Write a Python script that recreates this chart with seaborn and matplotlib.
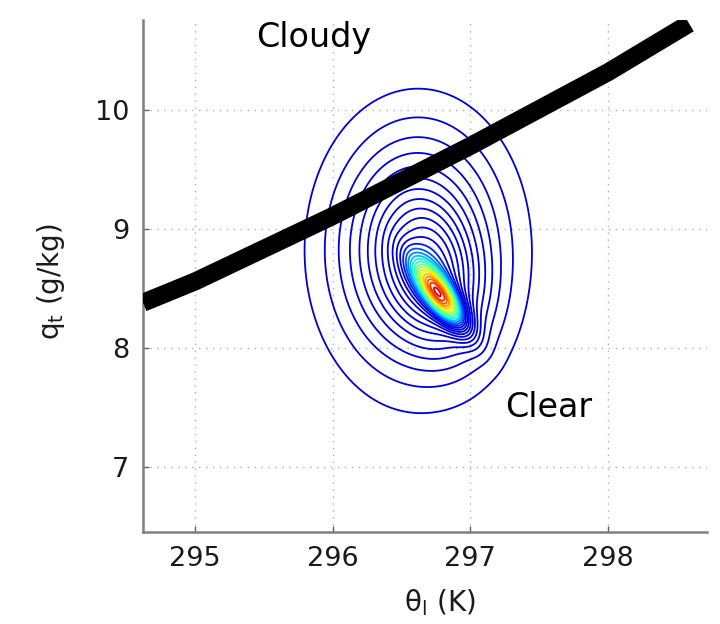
import numpy as np
import matplotlib
matplotlib.use("Agg")
import matplotlib.pyplot as plt
import seaborn as sns

# Saturation curve separating cloudy from clear air
theta_sat = [294.62, 295.0, 296.0, 297.0, 298.0, 298.59]
qt_sat = [8.38, 8.56, 9.11, 9.70, 10.32, 10.73]

# Joint PDF of theta_l and q_t as Gaussian components:
# broad, intermediate and a narrow, negatively correlated core
comp_theta_mean = [296.62, 296.74, 296.78]
comp_qt_mean = [8.82, 8.60, 8.44]
comp_theta_sd = [0.40, 0.22, 0.13]
comp_qt_sd = [0.66, 0.38, 0.19]
comp_rho = [0.0, -0.25, -0.78]
comp_peak = [0.70, 0.45, 1.30]

x_ticks = [295, 296, 297, 298]
y_ticks = [7, 8, 9, 10]

sns.set_style("ticks")
plt.rcParams["font.family"] = ["DejaVu Sans"]
plt.rcParams["mathtext.fontset"] = "dejavusans"

fig = plt.figure(figsize=(7.2, 6.24), dpi=100)
ax = fig.add_axes([143 / 720, 1 - 532 / 624, (707 - 143) / 720, (532 - 20) / 624])

xlim = (294.62, 298.72)
ylim = (6.45, 10.76)

tx = np.linspace(xlim[0], xlim[1], 600)
qy = np.linspace(ylim[0], ylim[1], 600)
TX, QY = np.meshgrid(tx, qy)
pdf = np.zeros_like(TX)
for mx, my, sx, sy, r, a in zip(comp_theta_mean, comp_qt_mean, comp_theta_sd,
                                comp_qt_sd, comp_rho, comp_peak):
    u = (TX - mx) / sx
    v = (QY - my) / sy
    pdf += a * np.exp(-(u * u - 2 * r * u * v + v * v) / (2 * (1 - r * r)))

step = 1.0 / 12
levels = np.arange(step, pdf.max(), step)
blue_top = 1.05
jet = plt.get_cmap("jet")
n_blue = int(np.sum(levels < blue_top))
colors = []
for k in range(len(levels)):
    if k < n_blue:
        colors.append(jet(0.08))
    else:
        t = (k - n_blue) / max(1, len(levels) - 1 - n_blue)
        colors.append(jet(0.15 + 0.77 * t))
ax.contour(TX, QY, pdf, levels=levels, colors=colors, linewidths=1.3)

sns.lineplot(x=theta_sat, y=qt_sat, ax=ax, color="black", linewidth=13,
             solid_capstyle="butt", zorder=5)

ax.set_xlim(*xlim)
ax.set_ylim(*ylim)
ax.set_xticks(x_ticks)
ax.set_yticks(y_ticks)
ax.grid(True, color="#b0b0b0", linestyle=(0, (1, 4)), linewidth=1.0)
for side in ["top", "right"]:
    ax.spines[side].set_visible(False)
for side in ["left", "bottom"]:
    ax.spines[side].set_color("#808080")
    ax.spines[side].set_linewidth(1.8)
ax.tick_params(direction="in", length=4, width=1, color="#606060",
               labelsize=19.5, pad=10, labelcolor="#1a1a1a")

ax.set_xlabel(r"θ$_\mathregular{l}$ (K)", fontsize=20, color="#1a1a1a")
ax.set_ylabel(r"q$_\mathregular{t}$ (g/kg)", fontsize=20, color="#1a1a1a")
ax.xaxis.set_label_coords(0.527, -0.108)
ax.yaxis.set_label_coords(-0.135, 0.49)

ax.text(295.44, 10.53, "Cloudy", fontsize=24, va="baseline", ha="left", color="black")
ax.text(297.25, 7.42, "Clear", fontsize=24, va="baseline", ha="left", color="black")

fig.savefig("out.png", dpi=100)
